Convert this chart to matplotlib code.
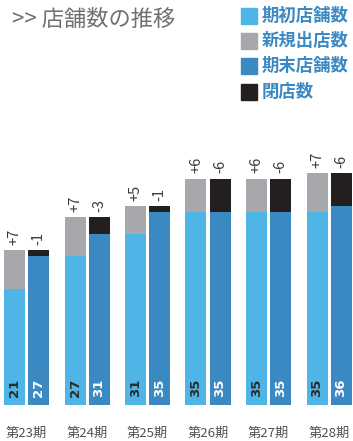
import numpy as np
import matplotlib
matplotlib.use('Agg')
import matplotlib.pyplot as plt
from matplotlib.patches import Rectangle

plt.rcParams['font.family'] = ['Noto Sans CJK JP', 'DejaVu Sans']

# data
periods = ['第23期', '第24期', '第25期', '第26期', '第27期', '第28期']
start_count = [21, 27, 31, 35, 35, 35]   # 期初店舗数
opened = [7, 7, 5, 6, 6, 7]              # 新規出店数
end_count = [27, 31, 35, 35, 35, 36]     # 期末店舗数
closed = [1, 3, 1, 6, 6, 6]              # 閉店数
legend_labels = ['期初店舗数', '新規出店数', '期末店舗数', '閉店数']

c_start = '#4fb5e7'
c_open = '#a7a8ab'
c_end = '#3a89c3'
c_close = '#231f20'
colors = [c_start, c_open, c_end, c_close]

W, H = 353, 441
fig = plt.figure(figsize=(W / 100, H / 100), dpi=100)

base_px = 405
px_per_unit = 5.52
ax = fig.add_axes([0, (H - base_px) / H, 1, base_px / H])
ax.set_ylim(0, base_px / px_per_unit)
ax.set_xlim(-26.5 / 60.5, (W - 26.5) / 60.5)
ax.axis('off')

x = np.arange(len(periods))
w = 21 / 60.5
off = 12 / 60.5

ax.bar(x - off, start_count, w, color=c_start)
ax.bar(x - off, opened, w, bottom=start_count, color=c_open)
ax.bar(x + off, end_count, w, color=c_end)
ax.bar(x + off, closed, w, bottom=end_count, color=c_close)

for i in range(len(periods)):
    top_l = start_count[i] + opened[i]
    top_r = end_count[i] + closed[i]
    ax.text(x[i] - off, top_l + 1.0, '+%d' % opened[i], rotation=90,
            ha='center', va='bottom', fontsize=10.5, color='#3a3a3a')
    ax.text(x[i] + off, top_r + 1.0, '-%d' % closed[i], rotation=90,
            ha='center', va='bottom', fontsize=10.5, color='#3a3a3a')
    ax.text(x[i] - off, 3.1, str(start_count[i]), rotation=90,
            ha='center', va='center', fontsize=9.5, fontweight='bold',
            color='#2b2b2b', family='DejaVu Sans')
    ax.text(x[i] + off, 3.1, str(end_count[i]), rotation=90,
            ha='center', va='center', fontsize=9.5, fontweight='bold',
            color='white', family='DejaVu Sans')
    fig.text((26.5 + 60.5 * i) / W, 1 - 433 / H, periods[i],
             ha='center', va='center', fontsize=9.5, color='#505050')

# title
fig.text(12 / W, 1 - 19 / H, '>> 店舗数の推移', ha='left', va='center',
         fontsize=16, color='#707070')

# legend
for k, lab in enumerate(legend_labels):
    yc = [16, 41, 66, 92][k]
    fig.add_artist(Rectangle((241 / W, 1 - (yc + 8) / H), 16 / W, 16 / H,
                             transform=fig.transFigure, color=colors[k]))
    fig.text(262 / W, 1 - yc / H, lab, ha='left', va='center',
             fontsize=12.5, color='#3a89c3', fontweight='bold')

fig.savefig('out.png', dpi=100)
